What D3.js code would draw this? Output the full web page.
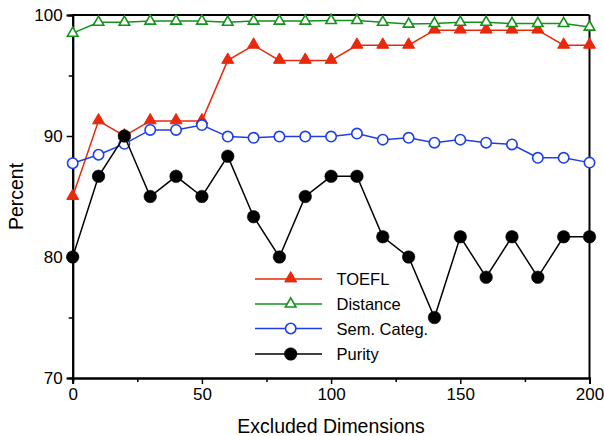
<!DOCTYPE html>
<html>
<head>
<meta charset="utf-8">
<script src="https://cdn.jsdelivr.net/npm/d3@7"></script>
<style>
  html, body { margin: 0; padding: 0; background: #fff; }
  text { font-family: "Liberation Sans", Arial, Helvetica, sans-serif; }
</style>
</head>
<body>
<svg id="chart" width="604" height="436"></svg>
<script>
const dims = [0,10,20,30,40,50,60,70,80,90,100,110,120,130,140,150,160,170,180,190,200];
const toefl = [85,91.25,90,91.25,91.25,91.25,96.25,97.5,96.25,96.25,96.25,97.5,97.5,97.5,98.75,98.75,98.75,98.75,98.75,97.5,97.5];
const distance = [98.5,99.4,99.4,99.5,99.5,99.5,99.4,99.5,99.5,99.5,99.55,99.55,99.4,99.25,99.3,99.4,99.4,99.3,99.3,99.3,99.0];
const semCateg = [87.75,88.45,89.35,90.5,90.5,90.9,89.95,89.85,89.95,89.95,89.95,90.2,89.7,89.85,89.45,89.7,89.45,89.3,88.2,88.2,87.8];
const purity = [80,86.67,90,85,86.67,85,88.33,83.33,80,85,86.67,86.67,81.67,80,75,81.67,78.33,81.67,78.33,81.67,81.67];
const seriesNames = ["TOEFL","Distance","Sem. Categ.","Purity"];
const seriesColors = ["#e8290c","#14921c","#1f3ee8","#000000"];
const xTicks = [0,50,100,150,200];
const yTicks = [70,80,90,100];

const series = [
  {name: seriesNames[0], values: toefl, color: seriesColors[0], shape: "tri", filled: true},
  {name: seriesNames[1], values: distance, color: seriesColors[1], shape: "tri", filled: false},
  {name: seriesNames[2], values: semCateg, color: seriesColors[2], shape: "circ", filled: false},
  {name: seriesNames[3], values: purity, color: seriesColors[3], shape: "circ", filled: true}
];

const svg = d3.select("#chart");
const x = d3.scaleLinear().domain([0,200]).range([72.7,589.5]);
const y = d3.scaleLinear().domain([70,100]).range([378,15]);

// frame (top/right)
svg.append("line").attr("x1", x(0)).attr("x2", x(200)).attr("y1", y(100)).attr("y2", y(100))
  .attr("stroke","#000").attr("stroke-width",2);
svg.append("line").attr("x1", x(200)).attr("x2", x(200)).attr("y1", y(100)).attr("y2", y(70))
  .attr("stroke","#000").attr("stroke-width",2);

// axes
const xAxis = d3.axisBottom(x).tickValues(xTicks).tickSize(6).tickPadding(4).tickFormat(d3.format("d"));
const xMinor = d3.axisBottom(x).tickValues([25,75,125,175]).tickSize(4).tickFormat("");
const yAxis = d3.axisLeft(y).tickValues(yTicks).tickSize(6).tickPadding(4).tickFormat(d3.format("d"));
const yMinor = d3.axisLeft(y).tickValues([75,85,95]).tickSize(4).tickFormat("");

function styleAxis(g) {
  g.select(".domain").attr("stroke","#000").attr("stroke-width",2);
  g.selectAll(".tick line").attr("stroke","#000").attr("stroke-width",1.5);
  g.selectAll("text").attr("font-size","17px").attr("fill","#000")
    .style("font-family","'Liberation Sans', Arial, sans-serif");
}
svg.append("g").attr("transform",`translate(0,${y(70)})`).call(xMinor).call(styleAxis);
svg.append("g").attr("transform",`translate(0,${y(70)})`).call(xAxis).call(styleAxis);
svg.append("g").attr("transform",`translate(${x(0)},0)`).call(yMinor).call(styleAxis);
svg.append("g").attr("transform",`translate(${x(0)},0)`).call(yAxis).call(styleAxis);

// axis titles
svg.append("text").attr("x", (x(0)+x(200))/2).attr("y", 433).attr("text-anchor","middle")
  .attr("font-size","19.5px").text("Excluded Dimensions");
svg.append("text").attr("transform",`translate(23,${(y(70)+y(100))/2}) rotate(-90)`)
  .attr("text-anchor","middle").attr("font-size","19.5px").text("Percent");

const line = d3.line().x((d,i)=>x(dims[i])).y(d=>y(d));
const triPath = d3.symbol().type(d3.symbolTriangle);

function drawMarker(g, s, cx, cy) {
  if (s.shape === "tri") {
    const size = s.filled ? 62 : 48;
    g.append("path").attr("d", triPath.size(size)())
      .attr("transform",`translate(${cx},${cy - (s.filled?0.5:0)})`)
      .attr("fill", s.filled ? s.color : "#fff")
      .attr("stroke", s.color).attr("stroke-width", s.filled ? 1 : 1.6);
  } else {
    g.append("circle").attr("cx",cx).attr("cy",cy).attr("r", s.filled ? 6.3 : 5.2)
      .attr("fill", s.filled ? s.color : "#fff")
      .attr("stroke", s.color).attr("stroke-width", s.filled ? 0.5 : 1.6);
  }
}

series.forEach(s => {
  const g = svg.append("g");
  g.append("path").attr("d", line(s.values)).attr("fill","none")
    .attr("stroke", s.color).attr("stroke-width",1.5);
  s.values.forEach((v,i) => drawMarker(g, s, x(dims[i]), y(v)));
});

// legend
const legendY = [279,304,328.5,354];
series.forEach((s,i) => {
  const g = svg.append("g");
  g.append("line").attr("x1",255).attr("x2",322).attr("y1",legendY[i]).attr("y2",legendY[i])
    .attr("stroke", s.color).attr("stroke-width",1.5);
  drawMarker(g, s, 290.7, legendY[i]);
  g.append("text").attr("x",336.5).attr("y",legendY[i]+6).attr("font-size","16.5px").text(s.name);
});
</script>
</body>
</html>
